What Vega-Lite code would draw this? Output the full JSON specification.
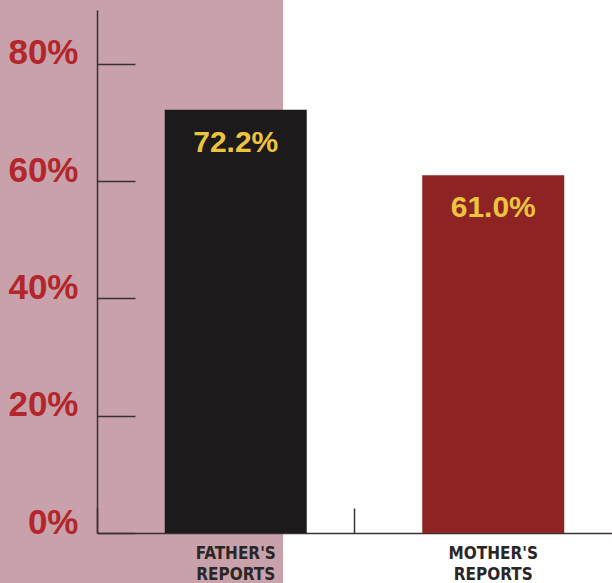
{
  "$schema": "https://vega.github.io/schema/vega-lite/v6.json",
  "width": 612,
  "height": 583,
  "autosize": {"type": "none"},
  "padding": 0,
  "background": "#ffffff",
  "view": {
    "stroke": null,
    "fill": {
      "gradient": "linear",
      "x1": 0, "y1": 0, "x2": 1, "y2": 0,
      "stops": [
        {"offset": 0, "color": "#c9a1ab"},
        {"offset": 0.462, "color": "#c9a1ab"},
        {"offset": 0.4625, "color": "#ffffff"},
        {"offset": 1, "color": "#ffffff"}
      ]
    }
  },
  "data": {
    "values": [
      {"source": "FATHER'S REPORTS", "pct": 72.2, "label": "72.2%"},
      {"source": "MOTHER'S REPORTS", "pct": 61.0, "label": "61.0%"}
    ]
  },
  "encoding": {
    "x": {
      "field": "source",
      "type": "nominal",
      "sort": null,
      "scale": {"range": [97, 612], "paddingInner": 0, "paddingOuter": 0},
      "axis": {
        "orient": "bottom",
        "offset": -50,
        "title": null,
        "domainColor": "#3a3232",
        "domainWidth": 1.5,
        "bandPosition": 0,
        "tickSize": -25,
        "tickColor": "#3a3232",
        "tickWidth": 1.5,
        "labelOffset": 10,
        "labelAngle": 0,
        "labelAlign": "center",
        "labelPadding": 37,
        "labelExpr": "split(datum.label, ' ')",
        "labelFont": "Liberation Sans Narrow, DejaVu Sans Condensed, Liberation Sans",
        "labelFontWeight": "bold",
        "labelFontSize": 17,
        "labelLineHeight": 21,
        "labelColor": "#2a2626"
      }
    },
    "y": {
      "field": "pct",
      "type": "quantitative",
      "scale": {"domain": [0, 89.2], "range": [533, 10], "nice": false, "zero": true},
      "axis": {
        "orient": "left",
        "offset": -97,
        "title": null,
        "grid": false,
        "values": [0, 20, 40, 60, 80],
        "domainColor": "#3a3232",
        "domainWidth": 1.5,
        "tickSize": -38,
        "tickColor": "#3a3232",
        "tickWidth": 1.5,
        "labelExpr": "datum.value + '%'",
        "labelBaseline": "alphabetic",
        "labelPadding": 57,
        "labelFont": "Liberation Sans",
        "labelFontWeight": "bold",
        "labelFontSize": 35,
        "labelColor": "#b3262b"
      }
    }
  },
  "layer": [
    {
      "mark": {"type": "bar", "width": 142, "xOffset": 10},
      "encoding": {
        "color": {
          "field": "source",
          "type": "nominal",
          "scale": {"range": ["#1c1a1a", "#8e2323"]},
          "legend": null
        }
      }
    },
    {
      "mark": {
        "type": "text",
        "xOffset": 10,
        "dy": 42,
        "baseline": "alphabetic",
        "align": "center",
        "font": "Liberation Sans",
        "fontWeight": "bold",
        "fontSize": 30,
        "color": "#ecc440"
      },
      "encoding": {
        "text": {"field": "label"}
      }
    }
  ]
}
